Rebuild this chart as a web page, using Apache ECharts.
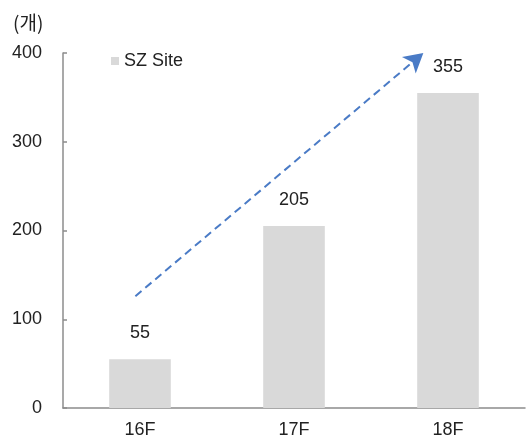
<!DOCTYPE html>
<html>
<head>
<meta charset="utf-8">
<script src="https://cdn.jsdelivr.net/npm/echarts@6/dist/echarts.min.js"></script>
<style>
  html, body { margin: 0; padding: 0; background: #fff; }
  #chart { width: 532px; height: 441px; }
</style>
</head>
<body>
<div id="chart"></div>
<script>
// Site counts by year
const categories = ['16F', '17F', '18F'];
const siteCounts = [55, 205, 355];
const seriesName = 'SZ Site';
const unitLabel = '(개)';
const yMin = 0, yMax = 400, yStep = 100;
// Trend arrow endpoints: [category position, value]
const trendStart = [-0.03, 126];
const trendEnd = [1.84, 400];

const FONT = '"Liberation Sans", Arial, "Noto Sans CJK KR", sans-serif';
const axisGray = '#8c8c8c';
const arrowBlue = '#4a7bc6';
const headSize = [16, 19];

const chart = echarts.init(document.getElementById('chart'), null, { renderer: 'canvas' });

function buildOption(head) {
  return {
    animation: false,
    backgroundColor: '#fff',
    textStyle: { fontFamily: FONT },
    grid: { left: 63, right: 7, top: 53, bottom: 33, containLabel: false },
    title: {
      text: unitLabel,
      left: 8, top: 8,
      textStyle: { fontSize: 19, fontWeight: 'normal', color: '#222', fontFamily: '"Noto Sans CJK KR", sans-serif' }
    },
    legend: {
      data: [{ name: seriesName, icon: 'rect' }],
      left: 106, top: 47,
      itemWidth: 8, itemHeight: 8, itemGap: 3,
      textStyle: { fontSize: 18, color: '#222', fontFamily: FONT }
    },
    xAxis: [{
      type: 'category',
      data: categories,
      axisLine: { lineStyle: { color: axisGray, width: 1.5 } },
      axisTick: { inside: true, length: 4, lineStyle: { color: axisGray, width: 1.5 } },
      axisLabel: { fontSize: 18, color: '#222', margin: 13, fontFamily: FONT }
    }, {
      type: 'value',
      min: -0.5, max: 2.5,
      show: false
    }],
    yAxis: {
      type: 'value',
      min: yMin, max: yMax, interval: yStep,
      axisLine: { show: true, onZero: false, lineStyle: { color: axisGray, width: 1.5 } },
      axisTick: { show: true, inside: true, length: 4, lineStyle: { color: axisGray, width: 1.5 } },
      splitLine: { show: false },
      axisLabel: { fontSize: 18, color: '#222', margin: 21, fontFamily: FONT }
    },
    series: [{
      name: seriesName,
      type: 'bar',
      data: siteCounts,
      barWidth: '40%',
      itemStyle: { color: '#d9d9d9' },
      label: { show: true, position: 'top', distance: 17, fontSize: 18, color: '#222', fontFamily: FONT }
    }, {
      name: 'trend',
      type: 'line',
      xAxisIndex: 1,
      clip: false,
      silent: true,
      symbol: 'none',
      showSymbol: true,
      color: arrowBlue,
      lineStyle: { color: arrowBlue, width: 2, type: [8, 5] },
      data: [
        { value: trendStart, symbol: 'none' },
        {
          value: trendEnd,
          symbol: head ? 'arrow' : 'none',
          symbolSize: headSize,
          symbolRotate: head ? head.rotate : 0,
          itemStyle: { color: arrowBlue, opacity: 1 }
        }
      ]
    }]
  };
}

chart.setOption(buildOption(null));

// Orient the arrowhead along the trend line
const p0 = chart.convertToPixel({ xAxisIndex: 1, yAxisIndex: 0 }, trendStart);
const p1 = chart.convertToPixel({ xAxisIndex: 1, yAxisIndex: 0 }, trendEnd);
const ang = Math.atan2(-(p1[1] - p0[1]), p1[0] - p0[0]);
chart.setOption(buildOption({ rotate: ang * 180 / Math.PI - 90 }));
</script>
</body>
</html>
